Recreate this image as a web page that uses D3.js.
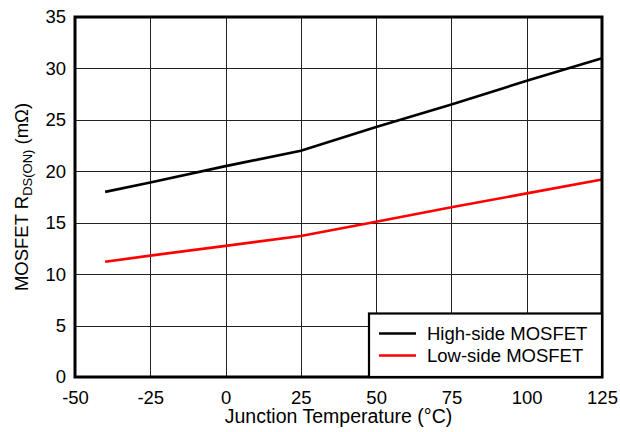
<!DOCTYPE html>
<html>
<head>
<meta charset="utf-8">
<script src="https://cdn.jsdelivr.net/npm/d3@7"></script>
<style>
  html, body { margin: 0; padding: 0; background: #fff; }
  svg { display: block; font-family: "Liberation Sans", Arial, sans-serif; }
</style>
</head>
<body>
<svg id="chart" width="620" height="432"></svg>
<script>
// Junction temperature (°C) at which R_DS(ON) is sampled
const temperatures = [-40, -25, 0, 25, 50, 75, 100, 125];
// On-resistance in mΩ
const highSide = [18.0, 18.9, 20.5, 22.0, 24.3, 26.5, 28.8, 31.0];
const lowSide  = [11.2, 11.8, 12.75, 13.7, 15.1, 16.5, 17.85, 19.2];
const seriesNames = ["High-side MOSFET", "Low-side MOSFET"];
const seriesColors = ["#000000", "#ff0000"];
const xTicks = [-50, -25, 0, 25, 50, 75, 100, 125];
const yTicks = [0, 5, 10, 15, 20, 25, 30, 35];

const svg = d3.select("#chart");
const plotLeft = 75, plotRight = 602, plotTop = 17, plotBottom = 377;

const x = d3.scaleLinear().domain([-50, 125]).range([plotLeft, plotRight]);
const y = d3.scaleLinear().domain([0, 35]).range([plotBottom, plotTop]);

// grid
const grid = svg.append("g").attr("stroke", "#222").attr("stroke-width", 1);
grid.selectAll("line.v").data(xTicks.slice(1, -1)).join("line")
  .attr("x1", d => Math.round(x(d)) + 0.5).attr("x2", d => Math.round(x(d)) + 0.5)
  .attr("y1", plotTop).attr("y2", plotBottom);
grid.selectAll("line.h").data(yTicks.slice(1, -1)).join("line")
  .attr("y1", d => Math.round(y(d)) + 0.5).attr("y2", d => Math.round(y(d)) + 0.5)
  .attr("x1", plotLeft).attr("x2", plotRight);

// axes (labels only; frame drawn separately)
const plain = d => String(d);
const xAxis = svg.append("g").attr("transform", `translate(0,${plotBottom})`)
  .call(d3.axisBottom(x).tickValues(xTicks).tickFormat(plain).tickSize(0).tickPadding(14));
const yAxis = svg.append("g").attr("transform", `translate(${plotLeft},0)`)
  .call(d3.axisLeft(y).tickValues(yTicks).tickFormat(plain).tickSize(0).tickPadding(9));
[xAxis, yAxis].forEach(a => {
  a.select(".domain").remove();
  a.selectAll("text").attr("font-size", 18.5).attr("fill", "#000")
    .attr("font-family", "Liberation Sans, Arial, sans-serif");
});

// series
const line = d3.line().x(d => x(d[0])).y(d => y(d[1]));
[highSide, lowSide].forEach((vals, i) => {
  svg.append("path")
    .datum(temperatures.map((t, j) => [t, vals[j]]))
    .attr("d", line)
    .attr("fill", "none")
    .attr("stroke", seriesColors[i])
    .attr("stroke-width", 2.6);
});

// frame
svg.append("rect")
  .attr("x", plotLeft).attr("y", plotTop)
  .attr("width", plotRight - plotLeft).attr("height", plotBottom - plotTop)
  .attr("fill", "none").attr("stroke", "#000").attr("stroke-width", 3);

// legend
const lg = svg.append("g");
lg.append("rect").attr("x", 369).attr("y", 313.5)
  .attr("width", plotRight - 369).attr("height", plotBottom - 313.5)
  .attr("fill", "#fff").attr("stroke", "#000").attr("stroke-width", 2.2);
seriesNames.forEach((name, i) => {
  const ly = 333.5 + i * 22;
  lg.append("line").attr("x1", 379).attr("x2", 416).attr("y1", ly).attr("y2", ly)
    .attr("stroke", seriesColors[i]).attr("stroke-width", 2.6);
  lg.append("text").attr("x", 427).attr("y", ly + 6.5)
    .attr("font-size", 18.5).text(name);
});

// axis titles
svg.append("text")
  .attr("x", (plotLeft + plotRight) / 2).attr("y", 423)
  .attr("text-anchor", "middle").attr("font-size", 19.5)
  .text("Junction Temperature (°C)");

const yt = svg.append("text")
  .attr("transform", `translate(28,${(plotTop + plotBottom) / 2}) rotate(-90)`)
  .attr("text-anchor", "middle").attr("font-size", 18.5);
yt.append("tspan").text("MOSFET R");
yt.append("tspan").attr("font-size", 13).attr("dy", 4).text("DS(ON)");
yt.append("tspan").attr("dy", -4).text(" (mΩ)");
</script>
</body>
</html>
